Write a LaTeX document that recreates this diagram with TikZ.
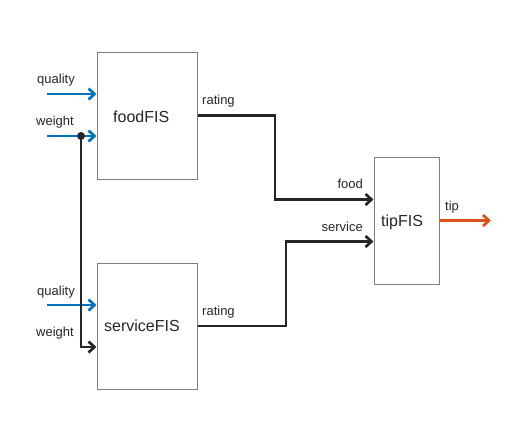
\documentclass[tikz,border=0pt]{standalone}
\usepackage{fontspec}
\setmainfont{Liberation Sans}
\usetikzlibrary{arrows.meta}
\definecolor{mblue}{HTML}{0072BD}
\definecolor{morange}{HTML}{D95319}
\definecolor{mdark}{HTML}{262626}
\definecolor{mgray}{HTML}{808080}
\begin{document}
\begin{tikzpicture}[x=1pt,y=-1pt,
  fis/.style={draw=mgray, line width=1pt, inner sep=0pt},
  boxtext/.style={inner sep=0pt, anchor=base west, font=\fontsize{16}{18}\selectfont, text=mdark},
  lbl/.style={inner sep=0pt, anchor=base west, font=\fontsize{13}{15}\selectfont, text=mdark},
  sig/.style={line width=2.7pt, line join=miter, -{Straight Barb[length=6pt,width=11pt]}},
  bluesig/.style={sig, draw=mblue},
  darksig/.style={sig, draw=mdark},
  orangesig/.style={sig, draw=morange}]
\useasboundingbox (0,0) rectangle (528,440);
% boxes
\node[fis, minimum width=100pt, minimum height=127pt] (food) at (147,115.5) {};
\node[fis, minimum width=100pt, minimum height=126pt] (service) at (147,326) {};
\node[fis, minimum width=65pt, minimum height=127pt] (tip) at (406.5,221) {};
\node[boxtext] (foodt) at (113,122) {foodFIS};
\node[boxtext] (servicet) at (104,331) {serviceFIS};
\node[boxtext] (tipt) at (381,226) {tipFIS};
% input labels
\node[lbl] (q1) at (37,83) {quality};
\node[lbl] (w1) at (36,125) {weight};
\node[lbl] (q2) at (37,295) {quality};
\node[lbl] (w2) at (36,336) {weight};
\node[lbl] (r1) at (202,104) {rating};
\node[lbl] (r2) at (202,315) {rating};
\node[lbl, anchor=base east] (lf) at (363,188) {food};
\node[lbl, anchor=base east] (ls) at (363,231) {service};
\node[lbl] (lt) at (445,210) {tip};
% coordinates
\coordinate (qf) at (47,94);
\coordinate (wf) at (47,136);
\coordinate (qs) at (47,305);
\coordinate (split) at (81,136);
\coordinate (wsb) at (81,347);
\coordinate (k1) at (275,199.5);
\coordinate (k2) at (286,241.5);
\coordinate (tout) at (491,220.5);
% connectors
\draw[bluesig] (qf) -- (qf -| food.west);
\draw[bluesig] (wf) -- (wf -| food.west);
\draw[bluesig] (qs) -- (qs -| service.west);
\draw[darksig] (split) -- (wsb) -- (wsb -| service.west);
\fill[mdark] (split) circle (4pt);
\draw[darksig] (food.east) -| (k1) -- (k1 -| tip.west);
\draw[darksig] (service.east) -| (k2) -- (k2 -| tip.west);
\draw[orangesig] (tout -| tip.east) -- (tout);
\end{tikzpicture}
\end{document}
